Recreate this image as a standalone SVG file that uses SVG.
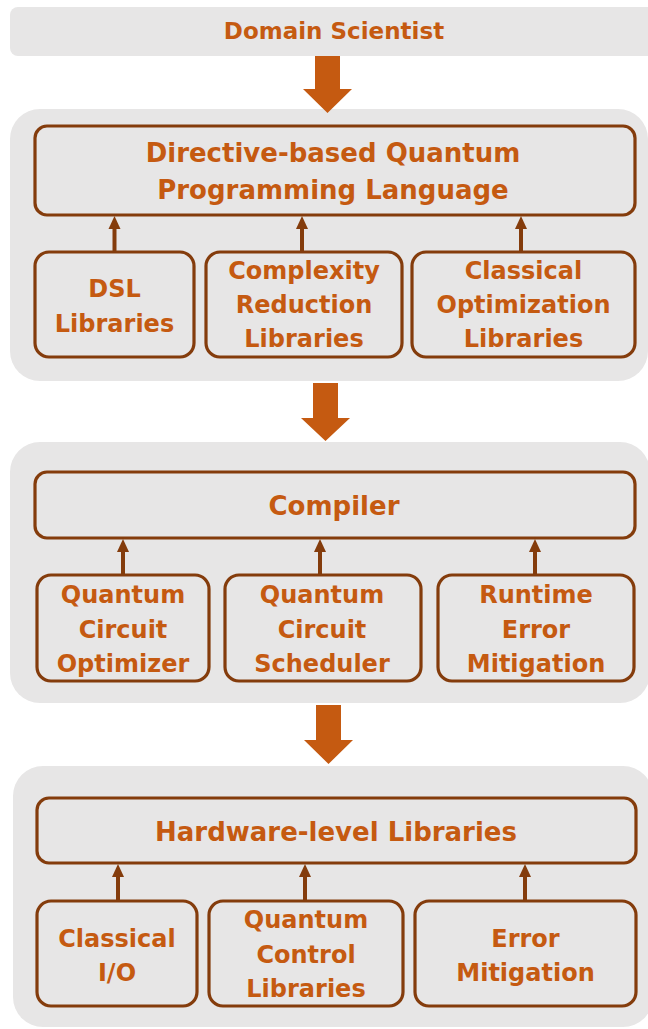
<svg xmlns="http://www.w3.org/2000/svg" width="648" height="1029" viewBox="0 0 648 1029">
<style>
.panel{fill:#E7E6E6;stroke:none}
.box{fill:none;stroke:#843C0C;stroke-width:3.2}
.t{font-family:"DejaVu Sans",sans-serif;font-weight:bold;fill:#C55A11;text-anchor:middle}
.big{font-size:26px}
.sm{font-size:24px}
.ds{font-size:23px}
.conn{stroke:#843C0C;stroke-width:4;fill:none}
.head{fill:#843C0C}
.flow{fill:#C55A11}
</style>
<rect width="648" height="1029" fill="#ffffff"/>
<g id="domain-scientist">
<rect class="panel" x="10" y="7" width="660" height="49" rx="8"/>
<text class="t ds" x="334" y="39">Domain Scientist</text>
</g>
<g id="panel-language">
<rect class="panel" x="10" y="109" width="638" height="272" rx="30"/>
</g>
<g id="panel-compiler">
<rect class="panel" x="10" y="442" width="640" height="261" rx="30"/>
</g>
<g id="panel-hardware">
<rect class="panel" x="13" y="766" width="640" height="261" rx="30"/>
</g>
<g id="dqpl">
<rect class="box" x="35" y="126" width="600" height="89" rx="12"/>
<text class="t big" x="333" y="162">Directive-based Quantum</text>
<text class="t big" x="333" y="199">Programming Language</text>
</g>
<g id="dsl">
<rect class="box" x="35" y="252" width="159" height="105" rx="14"/>
<text class="t sm" x="114.5" y="297">DSL</text>
<text class="t sm" x="114.5" y="332">Libraries</text>
</g>
<g id="complexity">
<rect class="box" x="206" y="252" width="196" height="105" rx="14"/>
<text class="t sm" x="304" y="279">Complexity</text>
<text class="t sm" x="304" y="313">Reduction</text>
<text class="t sm" x="304" y="347">Libraries</text>
</g>
<g id="classical-opt">
<rect class="box" x="412" y="252" width="223" height="105" rx="14"/>
<text class="t sm" x="523.5" y="279">Classical</text>
<text class="t sm" x="523.5" y="313">Optimization</text>
<text class="t sm" x="523.5" y="347">Libraries</text>
</g>
<g id="compiler">
<rect class="box" x="35" y="472" width="600" height="66" rx="12"/>
<text class="t big" x="334" y="515">Compiler</text>
</g>
<g id="qc-optimizer">
<rect class="box" x="37" y="575" width="172" height="106" rx="14"/>
<text class="t sm" x="123" y="603">Quantum</text>
<text class="t sm" x="123" y="638">Circuit</text>
<text class="t sm" x="123" y="672">Optimizer</text>
</g>
<g id="qc-scheduler">
<rect class="box" x="225" y="575" width="196" height="106" rx="14"/>
<text class="t sm" x="322" y="603">Quantum</text>
<text class="t sm" x="322" y="638">Circuit</text>
<text class="t sm" x="322" y="672">Scheduler</text>
</g>
<g id="runtime-em">
<rect class="box" x="438" y="575" width="196" height="106" rx="14"/>
<text class="t sm" x="536" y="603">Runtime</text>
<text class="t sm" x="536" y="638">Error</text>
<text class="t sm" x="536" y="672">Mitigation</text>
</g>
<g id="hardware">
<rect class="box" x="37" y="798" width="599" height="65" rx="12"/>
<text class="t big" x="336" y="841">Hardware-level Libraries</text>
</g>
<g id="classical-io">
<rect class="box" x="37" y="901" width="160" height="105" rx="14"/>
<text class="t sm" x="117" y="947">Classical</text>
<text class="t sm" x="117" y="981">I/O</text>
</g>
<g id="quantum-control">
<rect class="box" x="209" y="901" width="194" height="105" rx="14"/>
<text class="t sm" x="306" y="928">Quantum</text>
<text class="t sm" x="306" y="963">Control</text>
<text class="t sm" x="306" y="997">Libraries</text>
</g>
<g id="error-mitigation">
<rect class="box" x="415" y="901" width="221" height="105" rx="14"/>
<text class="t sm" x="525.5" y="947">Error</text>
<text class="t sm" x="525.5" y="981">Mitigation</text>
</g>
<g id="connectors">
<polygon class="flow" points="315,56 340,56 340,89 352,89 327.5,113 303,89 315,89"/>
<polygon class="flow" points="313,383 338,383 338,418 350,418 325.5,441 301,418 313,418"/>
<polygon class="flow" points="316,705 341,705 341,740 353,740 328.5,764 304,740 316,740"/>
<line class="conn" x1="114.5" y1="252" x2="114.5" y2="226"/>
<polygon class="head" points="114.5,216 108.5,229 120.5,229"/>
<line class="conn" x1="302" y1="252" x2="302" y2="226"/>
<polygon class="head" points="302,216 296,229 308,229"/>
<line class="conn" x1="521" y1="252" x2="521" y2="226"/>
<polygon class="head" points="521,216 515,229 527,229"/>
<line class="conn" x1="123" y1="575" x2="123" y2="549"/>
<polygon class="head" points="123,539 117,552 129,552"/>
<line class="conn" x1="320" y1="575" x2="320" y2="549"/>
<polygon class="head" points="320,539 314,552 326,552"/>
<line class="conn" x1="535" y1="575" x2="535" y2="549"/>
<polygon class="head" points="535,539 529,552 541,552"/>
<line class="conn" x1="118" y1="901" x2="118" y2="874"/>
<polygon class="head" points="118,864 112,877 124,877"/>
<line class="conn" x1="305" y1="901" x2="305" y2="874"/>
<polygon class="head" points="305,864 299,877 311,877"/>
<line class="conn" x1="525" y1="901" x2="525" y2="874"/>
<polygon class="head" points="525,864 519,877 531,877"/>
</g>
</svg>
